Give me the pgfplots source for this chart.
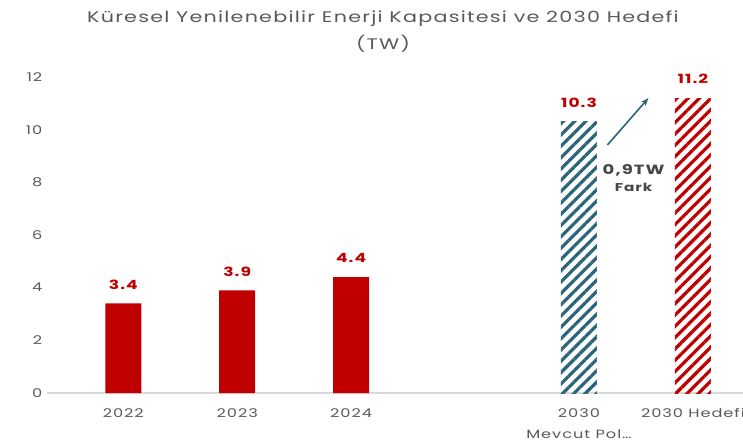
\documentclass[border=0pt]{standalone}
\usepackage{pgfplots}
\pgfplotsset{compat=1.18}
\usepackage{fontspec}
\setmainfont{Poppins}[FakeStretch=1.35, LetterSpace=8]
\usetikzlibrary{patterns.meta, arrows.meta}
\definecolor{barred}{HTML}{C00000}
\definecolor{hatchblue}{HTML}{2B6579}
\definecolor{txtgray}{HTML}{595959}
\definecolor{axisgray}{HTML}{D9D9D9}

\begin{document}
\begin{tikzpicture}
  \begin{axis}[
    scale only axis, width=522pt, height=237pt,
    xmin=-0.67, xmax=5.44, ymin=0, ymax=12,
    ytick={0,2,4,6,8,10,12},
    xtick={0,1,2,4,5},
    xticklabels={2022,2023,2024,{2030\\[5pt]Mevcut Pol\ldots},2030 Hedefi},
    axis x line*=bottom, axis y line*=left,
    x axis line style={draw=axisgray, line width=0.8pt, -},
    y axis line style={draw=none},
    major tick length=0pt,
    ticklabel style={font=\fontsize{9}{11}\selectfont, text=txtgray},
    xticklabel style={align=center, yshift=-8pt},
    /pgf/number format/assume math mode=true,
    ybar, bar width=27pt,
    nodes near coords,
    nodes near coords style={font=\bfseries\fontsize{9.5}{11}\selectfont, text=barred, yshift=7pt},
    clip=false,
  ]
    % solid bars (past years)
    \addplot[fill=barred, draw=none, bar shift=0pt] coordinates {(0,3.4) (1,3.9) (2,4.4)};
    % 2030 current policies
    \addplot[pattern={Lines[angle=45,distance=6pt,line width=2.4pt]}, pattern color=hatchblue,
      draw=none, bar shift=0pt] coordinates {(4,10.3)};
    % 2030 target
    \addplot[pattern={Lines[angle=45,distance=6pt,line width=2.4pt]}, pattern color=barred,
      draw=none, bar shift=0pt] coordinates {(5,11.2)};

    \draw[-{Stealth[length=6pt]}, hatchblue, line width=1.2pt]
      (axis cs:4.25,9.42) -- (axis cs:4.61,11.2);
    \node[font=\bfseries\fontsize{10}{12}\selectfont, text=txtgray!80!black, align=center]
      at (axis cs:4.48,8.17) {0,9TW\\[1pt]{\fontsize{8.5}{10}\selectfont Fark}};

    \coordinate (bl) at (rel axis cs:0,0);
  \end{axis}
  \node[font=\fontsize{11.5}{14}\selectfont, text=txtgray, align=center]
    at ([xshift=252pt,yshift=271pt]bl)
    {Küresel Yenilenebilir Enerji Kapasitesi ve 2030 Hedefi\\[6pt](TW)};
  \pgfresetboundingbox
  \path[use as bounding box] ([xshift=-35.25pt,yshift=-40.5pt]bl) rectangle ([xshift=522pt,yshift=294.75pt]bl);
\end{tikzpicture}
\end{document}
